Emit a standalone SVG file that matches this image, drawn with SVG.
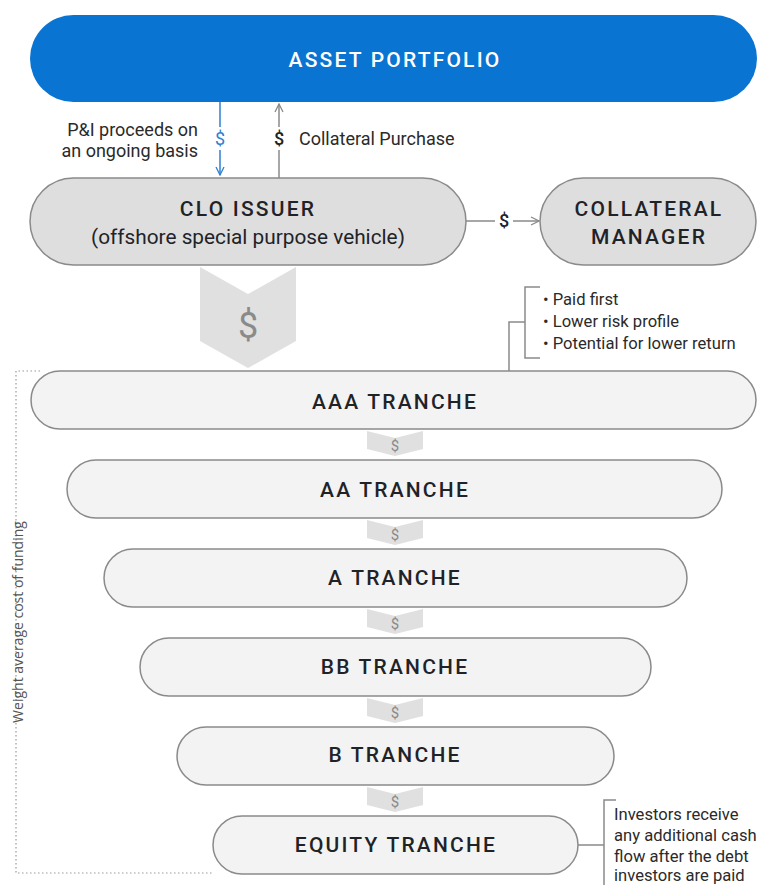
<svg xmlns="http://www.w3.org/2000/svg" width="757" height="885" viewBox="0 0 757 885">
  <defs>
    <style>
      .lbl { font-family: Roboto, "Liberation Sans", sans-serif; fill: #1f2328; }
      .cap { font-weight: 500; letter-spacing: 2.2px; font-size: 21px; text-anchor: middle; }
      .body { font-size: 18px; fill: #2a2a2a; }
      .note { font-size: 16.6px; fill: #2a2a2a; }
      .tranche { fill: #f3f3f3; stroke: #8a8a8a; stroke-width: 1.5; }
      .node { fill: #dedede; stroke: #8a8a8a; stroke-width: 1.5; }
      .chev { fill: #e0e0e0; }
      .chevtxt { font-family: Roboto, "Liberation Sans", sans-serif; fill: #8a8a8a; text-anchor: middle; }
      .line { stroke: #8a8a8a; stroke-width: 1.5; fill: none; }
    </style>
    <marker id="arrGray" viewBox="0 0 10 10" refX="9" refY="5" markerWidth="10" markerHeight="10" markerUnits="userSpaceOnUse" orient="auto">
      <path d="M1,1 L9,5 L1,9" fill="none" stroke="#8a8a8a" stroke-width="1.3"/>
    </marker>
    <marker id="arrBlue" viewBox="0 0 10 10" refX="9" refY="5" markerWidth="10" markerHeight="10" markerUnits="userSpaceOnUse" orient="auto">
      <path d="M1,1 L9,5 L1,9" fill="none" stroke="#2f7fd0" stroke-width="1.3"/>
    </marker>
  </defs>

  <rect width="757" height="885" fill="#ffffff"/>

  <!-- Weighted cost-of-funding bracket -->
  <g id="funding-bracket">
    <path d="M40,371 H16 V873 H213" fill="none" stroke="#9a9a9a" stroke-width="1.2" stroke-dasharray="1.5,2.5"/>
    <text transform="translate(23,622) rotate(-90)" text-anchor="middle" font-family="'Open Sans', 'DejaVu Sans', sans-serif" font-size="14" fill="#555555">Weight average cost of funding</text>
  </g>

  <!-- Top node -->
  <g id="asset-portfolio">
    <rect x="30" y="15" width="727" height="87" rx="43.5" fill="#0a74d2"/>
    <text class="lbl cap" x="395" y="67" style="fill:#ffffff">ASSET PORTFOLIO</text>
  </g>

  <g id="clo-issuer">
    <rect class="node" x="30" y="178" width="436" height="87" rx="43.5"/>
    <text class="lbl cap" x="248" y="216">CLO ISSUER</text>
    <text class="lbl" x="248" y="244" font-size="20.8" text-anchor="middle">(offshore special purpose vehicle)</text>
  </g>

  <g id="collateral-manager">
    <rect class="node" x="540" y="178" width="216" height="87" rx="43.5"/>
    <text class="lbl cap" x="649" y="216">COLLATERAL</text>
    <text class="lbl cap" x="649" y="244">MANAGER</text>
  </g>

  <!-- Tranches -->
  <g id="aaa-tranche">
    <rect class="tranche" x="31" y="371" width="725" height="58" rx="29"/>
    <text class="lbl cap" x="395" y="409">AAA TRANCHE</text>
  </g>
  <g id="aa-tranche">
    <rect class="tranche" x="67" y="460" width="655" height="58" rx="29"/>
    <text class="lbl cap" x="395" y="497">AA TRANCHE</text>
  </g>
  <g id="a-tranche">
    <rect class="tranche" x="104" y="549" width="583" height="58" rx="29"/>
    <text class="lbl cap" x="395" y="585">A TRANCHE</text>
  </g>
  <g id="bb-tranche">
    <rect class="tranche" x="140" y="638" width="511" height="58" rx="29"/>
    <text class="lbl cap" x="395" y="674">BB TRANCHE</text>
  </g>
  <g id="b-tranche">
    <rect class="tranche" x="177" y="727" width="437" height="58" rx="29"/>
    <text class="lbl cap" x="395" y="762">B TRANCHE</text>
  </g>
  <g id="equity-tranche">
    <rect class="tranche" x="213" y="816" width="365" height="58" rx="29"/>
    <text class="lbl cap" x="396" y="852">EQUITY TRANCHE</text>
  </g>

  <!-- Connectors -->
  <g id="connectors">
    <!-- P&I proceeds down to issuer -->
    <line x1="220" y1="102" x2="220" y2="127" stroke="#2f7fd0" stroke-width="1.5"/>
    <line x1="220" y1="150" x2="220" y2="175" stroke="#2f7fd0" stroke-width="1.5" marker-end="url(#arrBlue)"/>
    <text x="220" y="145" font-family="Roboto, 'Liberation Sans', sans-serif" font-size="18" fill="#2f7fd0" text-anchor="middle">$</text>
    <text class="lbl body" x="198" y="136" text-anchor="end">P&amp;I proceeds on</text>
    <text class="lbl body" x="198" y="157" text-anchor="end">an ongoing basis</text>

    <!-- Collateral purchase up to portfolio -->
    <line x1="279" y1="178" x2="279" y2="150" class="line"/>
    <line x1="279" y1="127" x2="279" y2="104" class="line" marker-end="url(#arrGray)"/>
    <text x="279" y="145" font-family="Roboto, 'Liberation Sans', sans-serif" font-size="18" font-weight="500" fill="#1f2328" text-anchor="middle">$</text>
    <text class="lbl body" x="299" y="145">Collateral Purchase</text>

    <!-- Issuer to manager -->
    <line x1="466" y1="221" x2="495" y2="221" class="line"/>
    <line x1="513" y1="221" x2="539" y2="221" class="line" marker-end="url(#arrGray)"/>
    <text x="504" y="227" font-family="Roboto, 'Liberation Sans', sans-serif" font-size="18" font-weight="500" fill="#1f2328" text-anchor="middle">$</text>

    <!-- Issuer cash flow into the waterfall -->
    <polygon class="chev" points="200,267 248,294 296,267 296,341 248,368 200,341"/>
    <text class="chevtxt" x="248" y="338" font-size="36">$</text>

    <!-- Waterfall steps -->
    <polygon class="chev" points="367,431 395,438 423,431 423,449 395,456 367,449"/>
    <text class="chevtxt" x="395" y="451" font-size="15">$</text>
    <polygon class="chev" points="367,520 395,527 423,520 423,538 395,545 367,538"/>
    <text class="chevtxt" x="395" y="540" font-size="15">$</text>
    <polygon class="chev" points="367,609 395,616 423,609 423,627 395,634 367,627"/>
    <text class="chevtxt" x="395" y="629" font-size="15">$</text>
    <polygon class="chev" points="367,698 395,705 423,698 423,716 395,723 367,716"/>
    <text class="chevtxt" x="395" y="718" font-size="15">$</text>
    <polygon class="chev" points="367,787 395,794 423,787 423,805 395,812 367,805"/>
    <text class="chevtxt" x="395" y="807" font-size="15">$</text>

    <!-- AAA note bracket -->
    <path class="line" d="M509,371 V322 H525"/>
    <path class="line" d="M540,287 H525 V358 H540"/>

    <!-- Equity note bracket -->
    <path class="line" d="M578,845 H604"/>
    <path class="line" d="M616,800 H604 V885"/>
  </g>

  <!-- Notes -->
  <g id="aaa-note">
    <text class="lbl note" x="543" y="305">• Paid first</text>
    <text class="lbl note" x="543" y="327">• Lower risk profile</text>
    <text class="lbl note" x="543" y="349">• Potential for lower return</text>
  </g>
  <g id="equity-note">
    <text class="lbl note" x="614" y="820">Investors receive</text>
    <text class="lbl note" x="614" y="841">any additional cash</text>
    <text class="lbl note" x="614" y="862">flow after the debt</text>
    <text class="lbl note" x="614" y="881">investors are paid</text>
  </g>
</svg>
